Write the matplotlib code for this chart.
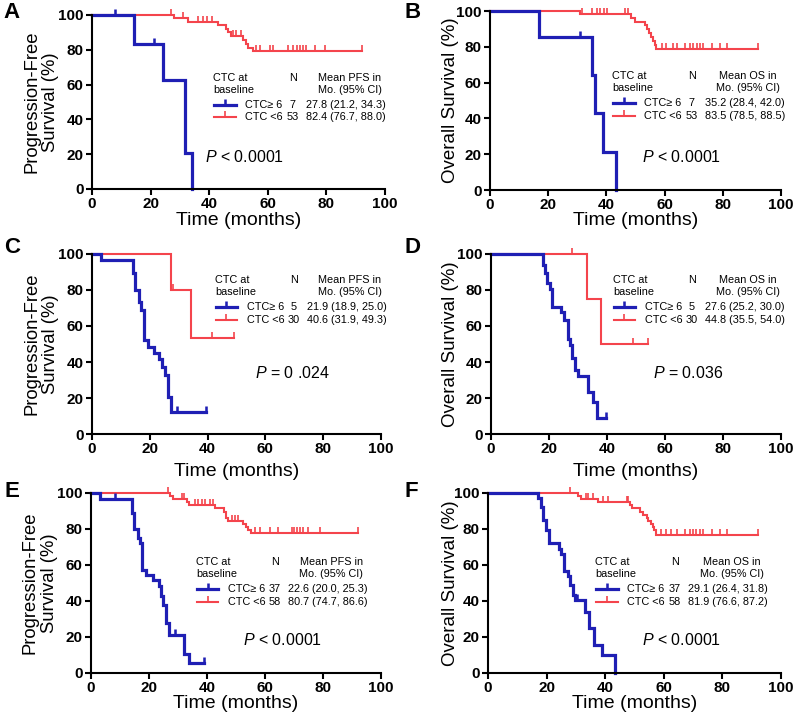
import numpy as np
import matplotlib
matplotlib.use("Agg")
import matplotlib.pyplot as plt

plt.rcParams['font.family'] = ['Liberation Sans', 'DejaVu Sans']
plt.rcParams['mathtext.fontset'] = 'custom'
plt.rcParams['mathtext.it'] = 'Liberation Sans:italic'
plt.rcParams['mathtext.rm'] = 'Liberation Sans'

BLUE = '#1f1fb4'
RED = '#f4444c'

# ---- data: (event times, survival %) per group, censor times, last follow-up ----
# A: PFS, all patients at baseline
a_hi_t = [14.4, 24.3, 31.9, 34.0]
a_hi_s = [83.3, 62.5, 20.8, 0.0]
a_hi_cens = [8.0, 21.0]
a_hi_end = 34.0
a_lo_t = [27.9, 32.8, 43.0, 45.9, 46.5, 47.5, 51.6, 52.5, 53.3, 55.0]
a_lo_s = [98.1, 96.2, 94.2, 92.1, 90.0, 87.9, 85.7, 83.5, 81.3, 79.1]
a_lo_cens = [27.1, 30.9, 36.2, 37.9, 39.3, 41.1, 48.2, 49.3, 50.7, 56.1, 57.3, 60.7,
             61.8, 67.0, 68.7, 69.8, 71.0, 72.1, 73.0, 76.1, 79.5, 92.0]
a_lo_end = 92.0

# B: OS
b_hi_t = [17.0, 35.2, 36.1, 39.0, 43.3]
b_hi_s = [85.7, 64.3, 42.9, 21.4, 0.0]
b_hi_cens = [31.0]
b_hi_end = 43.3
b_lo_t = [30.9, 48.5, 50.0, 53.3, 54.0, 54.6, 55.4, 56.0, 56.6, 57.2]
b_lo_s = [98.1, 96.1, 94.0, 91.9, 89.8, 87.6, 85.5, 83.3, 81.1, 78.9]
b_lo_cens = [31.5, 34.9, 36.7, 37.8, 39.2, 40.1, 46.4, 47.3, 59.0, 60.5, 62.8, 64.1,
             67.0, 68.7, 69.9, 71.0, 72.2, 73.3, 76.2, 79.0, 81.3, 92.2]
b_lo_end = 92.2

# C: PFS
c_hi_t = [3.0, 14.2, 15.0, 16.2, 17.0, 17.9, 19.3, 21.4, 23.1, 24.3, 25.1, 26.3, 27.2]
c_hi_s = [96.7, 89.6, 80.0, 73.5, 69.0, 52.2, 48.5, 45.2, 41.7, 37.4, 32.8, 20.7, 12.0]
c_hi_cens = [29.3, 39.4]
c_hi_end = 39.4
c_lo_t = [27.2, 34.2]
c_lo_s = [80.0, 53.3]
c_lo_cens = [28.1, 41.4, 49.0]
c_lo_end = 49.0

# D: OS
d_hi_t = [18.0, 18.6, 19.4, 20.2, 20.9, 24.3, 25.0, 26.4, 27.2, 28.1, 29.0, 29.9,
          33.4, 35.1, 36.6]
d_hi_s = [93.9, 89.3, 83.7, 80.4, 70.4, 68.0, 63.3, 52.6, 49.4, 42.0, 35.6, 32.2,
          23.5, 18.0, 8.7]
d_hi_cens = [39.5]
d_hi_end = 39.5
d_lo_t = [33.1, 38.1]
d_lo_s = [75.0, 50.0]
d_lo_cens = [27.9, 49.1, 54.3]
d_lo_end = 54.3

# E: PFS
e_hi_t = [3.1, 14.3, 14.9, 16.2, 17.0, 17.7, 19.1, 21.4, 23.3, 24.0, 24.8, 26.0,
          26.9, 32.0, 33.7]
e_hi_s = [96.9, 88.9, 80.2, 75.0, 72.2, 57.4, 54.3, 51.9, 48.1, 42.6, 38.0, 27.8,
          21.3, 10.7, 5.6]
e_hi_cens = [8.2, 29.1, 39.1]
e_hi_end = 39.1
e_lo_t = [27.2, 28.4, 33.0, 33.9, 42.8, 45.9, 46.6, 47.4, 52.3, 53.4, 54.3, 55.1]
e_lo_s = [98.3, 96.6, 94.9, 93.1, 91.4, 89.6, 86.2, 84.5, 82.8, 81.0, 79.3, 77.6]
e_lo_cens = [26.7, 31.3, 31.9, 35.9, 37.0, 38.2, 39.3, 41.0, 42.0, 48.7, 49.7, 50.8,
             56.6, 58.3, 61.7, 64.6, 69.2, 70.0, 71.1, 72.2, 73.2, 74.9, 79.0, 92.2]
e_lo_end = 92.2

# F: OS
f_hi_t = [17.1, 18.0, 18.75, 19.9, 20.8, 24.1, 25.0, 26.1, 27.3, 28.1, 29.0, 29.8,
          33.0, 34.4, 36.1, 39.0, 43.3]
f_hi_s = [97.2, 92.0, 85.2, 79.6, 72.2, 68.9, 66.1, 56.5, 53.7, 49.1, 43.5, 40.7,
          33.9, 25.0, 15.7, 10.0, 0.0]
f_hi_cens = [30.5]
f_hi_end = 43.3
f_lo_t = [30.8, 31.9, 37.6, 48.4, 49.0, 51.8, 53.0, 54.1, 54.7, 55.5, 56.2, 56.6, 57.3]
f_lo_s = [98.3, 96.6, 94.8, 93.1, 91.4, 89.7, 87.9, 86.2, 84.5, 82.8, 81.0, 79.3, 76.9]
f_lo_cens = [27.9, 33.6, 34.2, 35.9, 39.3, 41.0, 47.3, 47.9, 59.2, 60.9, 62.6, 64.4,
             67.2, 68.9, 70.0, 71.1, 72.2, 73.5, 76.3, 79.2, 81.4, 92.3]
f_lo_end = 92.3

panel_letters = ['A', 'B', 'C', 'D', 'E', 'F']
endpoints = ['PFS', 'OS', 'PFS', 'OS', 'PFS', 'OS']
n_hi = ['7', '7', '5', '5', '37', '37']
n_lo = ['53', '53', '30', '30', '58', '58']
mean_hi = ['27.8 (21.2, 34.3)', '35.2 (28.4, 42.0)', '21.9 (18.9, 25.0)',
           '27.6 (25.2, 30.0)', '22.6 (20.0, 25.3)', '29.1 (26.4, 31.8)']
mean_lo = ['82.4 (76.7, 88.0)', '83.5 (78.5, 88.5)', '40.6 (31.9, 49.3)',
           '44.8 (35.5, 54.0)', '80.7 (74.7, 86.6)', '81.9 (76.6, 87.2)']
p_text = ['< 0.0001', '< 0.0001', '= 0 .024', '= 0.036', '< 0.0001', '< 0.0001']

hi_data = [(a_hi_t, a_hi_s, a_hi_cens, a_hi_end), (b_hi_t, b_hi_s, b_hi_cens, b_hi_end),
           (c_hi_t, c_hi_s, c_hi_cens, c_hi_end), (d_hi_t, d_hi_s, d_hi_cens, d_hi_end),
           (e_hi_t, e_hi_s, e_hi_cens, e_hi_end), (f_hi_t, f_hi_s, f_hi_cens, f_hi_end)]
lo_data = [(a_lo_t, a_lo_s, a_lo_cens, a_lo_end), (b_lo_t, b_lo_s, b_lo_cens, b_lo_end),
           (c_lo_t, c_lo_s, c_lo_cens, c_lo_end), (d_lo_t, d_lo_s, d_lo_cens, d_lo_end),
           (e_lo_t, e_lo_s, e_lo_cens, e_lo_end), (f_lo_t, f_lo_s, f_lo_cens, f_lo_end)]

# ---- layout (pixels: left, right, top, bottom) ----
W, H = 796, 719
boxes = [(92, 385, 15, 189), (490, 781, 11, 190),
         (92, 381, 254, 434), (491, 781, 254, 434),
         (91, 381, 493, 673), (488, 781, 493, 673)]
letter_pos = [(3, 2), (404, 2), (4, 237), (404, 237), (4, 481), (404, 481)]
ylabel_x = [-0.112, -0.107, -0.114, -0.11, -0.114, -0.10]
xlabel_y = [-0.13, -0.125, -0.16, -0.16, -0.122, -0.122]
leg_anchor = [(0.413, 0.638), (0.42, 0.637), (0.425, 0.856),
              (0.42, 0.856), (0.362, 0.617), (0.365, 0.617)]
p_pos = [(0.386, 0.184), (0.522, 0.184), (0.564, 0.34),
         (0.56, 0.34), (0.524, 0.183), (0.525, 0.183)]

TICK = [(0, 0), (0, 1)]


def km(ax, t, s, cens, end, color, lw):
    xs = [0] + list(t) + [end]
    ys = [100] + list(s) + [s[-1]]
    ax.step(xs, ys, where='post', color=color, lw=lw, clip_on=False,
            solid_joinstyle='miter')
    idx = np.searchsorted(t, cens, side='right')
    lev = [100 if i == 0 else s[i - 1] for i in idx]
    ax.plot(cens, lev, ls='none', marker=TICK, ms=9, mew=lw * 0.8,
            color=color, clip_on=False)


fig = plt.figure(figsize=(W / 100, H / 100), dpi=100)

for k in range(6):
    l, r, t, b = boxes[k]
    ax = fig.add_axes([l / W, 1 - b / H, (r - l) / W, (b - t) / H])
    km(ax, *lo_data[k], RED, 1.5)
    km(ax, *hi_data[k], BLUE, 2.3)

    ax.set_xlim(0, 100)
    ax.set_ylim(0, 100)
    ax.set_xticks(range(0, 101, 20))
    ax.set_yticks(range(0, 101, 20))
    for sp in ['top', 'right']:
        ax.spines[sp].set_visible(False)
    for sp in ['left', 'bottom']:
        ax.spines[sp].set_linewidth(1.5)
    ax.tick_params(direction='out', length=4, width=1.5, labelsize=11, pad=2)
    for lab in ax.get_xticklabels() + ax.get_yticklabels():
        lab.set_fontweight('bold')

    if endpoints[k] == 'PFS':
        ax.set_ylabel('Progression-Free\nSurvival (%)', fontsize=13.3, linespacing=1.15)
    else:
        ax.set_ylabel('Overall Survival (%)', fontsize=13.5)
    ax.yaxis.set_label_coords(ylabel_x[k], 0.5)
    ax.set_xlabel('Time (months)', fontsize=14, va='top')
    ax.xaxis.set_label_coords(0.5, xlabel_y[k])

    # legend table
    x0, y0 = leg_anchor[k]
    fs = 7.8
    ax.text(x0, y0, 'CTC at', fontsize=fs, va='center', transform=ax.transAxes)
    ax.text(x0, y0 - 0.068, 'baseline', fontsize=fs, va='center', transform=ax.transAxes)
    ax.text(x0 + 0.273, y0, 'N', fontsize=fs, va='center', ha='center', transform=ax.transAxes)
    ax.text(x0 + 0.467, y0, 'Mean %s in' % endpoints[k], fontsize=fs, va='center',
            ha='center', transform=ax.transAxes)
    ax.text(x0 + 0.467, y0 - 0.068, 'Mo. (95% CI)', fontsize=fs, va='center',
            ha='center', transform=ax.transAxes)
    rows = [(BLUE, 2.3, 'CTC\u2265 6', n_hi[k], mean_hi[k]),
            (RED, 1.5, 'CTC <6', n_lo[k], mean_lo[k])]
    for j, (col, lw, name, n, mean) in enumerate(rows):
        yy = y0 - 0.153 - j * 0.07
        ax.plot([x0 + 0.003, x0 + 0.077], [yy, yy], color=col, lw=lw,
                transform=ax.transAxes, clip_on=False)
        ax.plot([x0 + 0.04], [yy], marker=TICK, ms=9, mew=lw * 0.8, color=col,
                transform=ax.transAxes, clip_on=False)
        ax.text(x0 + 0.11, yy, name, fontsize=fs, va='center', transform=ax.transAxes)
        ax.text(x0 + 0.273, yy, n, fontsize=fs, va='center', ha='center',
                transform=ax.transAxes)
        ax.text(x0 + 0.318, yy, mean, fontsize=fs, va='center', transform=ax.transAxes)

    px, py = p_pos[k]
    ax.text(px, py, '$P$ ' + p_text[k], fontsize=11.5, va='center', transform=ax.transAxes)

    lx, ly = letter_pos[k]
    fig.text(lx / W, 1 - ly / H, panel_letters[k], fontsize=16, fontweight='bold',
             va='top', ha='left')

fig.savefig('out.png', dpi=100)
